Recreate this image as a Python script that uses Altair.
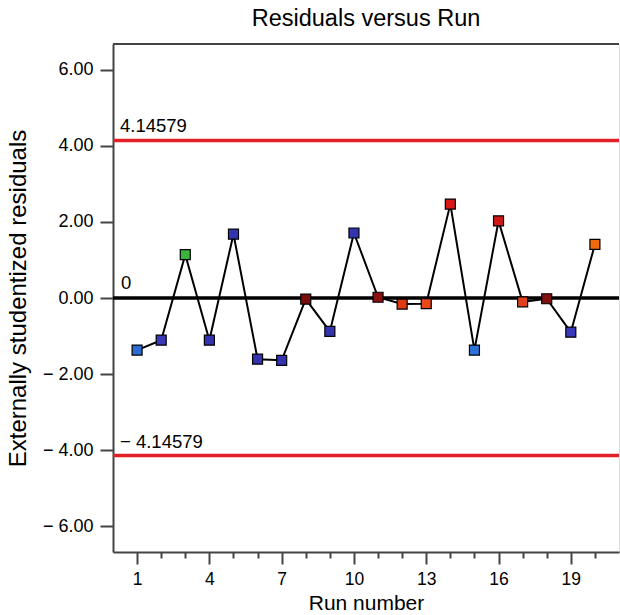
import altair as alt
import pandas as pd

# ---- data ----
runs = list(range(1, 21))
residuals = [-1.37, -1.11, 1.14, -1.11, 1.68, -1.61, -1.64, -0.03, -0.88, 1.71,
             0.02, -0.16, -0.15, 2.47, -1.37, 2.03, -0.10, -0.02, -0.90, 1.41]
point_colors = ["#2d6cd2", "#3a3ab8", "#3cb43c", "#3434b0", "#3434b0", "#3434b0",
                "#3434b0", "#7a0c0c", "#3434b0", "#3434b0", "#8a1010", "#e03a12",
                "#e8481a", "#d81818", "#2d72d8", "#d01818", "#e0401a", "#801010",
                "#3838b8", "#f06a12"]
limit_values = [4.14579, -4.14579]
limit_labels = ["4.14579", "\u2212 4.14579"]
zero_label = ["0"]
x_ticks = list(range(1, 21))
x_major = [1, 4, 7, 10, 13, 16, 19]
y_ticks = [-6, -4, -2, 0, 2, 4, 6]
x_domain = [0, 21]
y_domain = [-6.684, 6.684]

FONT = "Liberation Sans"

df = pd.DataFrame({"run": runs, "res": residuals, "color": point_colors})
lim_df = pd.DataFrame({"run": [x_domain[0]] * 2, "res": limit_values, "label": limit_labels})
zero_df = pd.DataFrame({"run": [x_domain[0]], "res": [0.0], "label": zero_label})
top_df = pd.DataFrame({"run": [x_domain[0]], "res": [y_domain[1]]})

major_test = "indexof(" + str(x_major) + ", datum.value) >= 0"

x_axis = alt.Axis(
    title="Run number",
    values=x_ticks,
    labelExpr=major_test + " ? datum.label : ''",
    labelOverlap=False,
    tickSize={"condition": {"test": major_test, "value": 12}, "value": 6},
    tickWidth=2,
    tickColor="#444444",
    domainColor="#444444",
    domainWidth=2,
    grid=False,
    labelFontSize=17.5,
    labelPadding=6,
    labelFont=FONT,
    labelColor="black",
    titleFont=FONT,
    titleFontSize=21,
    titleFontWeight="normal",
    titleColor="black",
    titlePadding=5,
)
y_axis = alt.Axis(
    title="Externally studentized residuals",
    values=y_ticks,
    labelExpr="datum.value < 0 ? '\u2212 ' + format(-datum.value, '.2f') : format(datum.value, '.2f')",
    labelOverlap=False,
    tickSize=13,
    tickWidth=2,
    tickColor="#444444",
    domainColor="#444444",
    domainWidth=2,
    grid=False,
    labelFontSize=18,
    labelPadding=7,
    labelFont=FONT,
    labelColor="black",
    titleFont=FONT,
    titleFontSize=24,
    titleFontWeight="normal",
    titleColor="black",
    titlePadding=12,
)

x_enc = alt.X("run:Q", scale=alt.Scale(domain=x_domain, nice=False, zero=False), axis=x_axis)
y_enc = alt.Y("res:Q", scale=alt.Scale(domain=y_domain, nice=False, zero=False), axis=y_axis)

line = alt.Chart(df).mark_line(color="black", strokeWidth=2).encode(x=x_enc, y=y_enc)

points = alt.Chart(df).mark_square(size=100, stroke="black", strokeWidth=1.2, opacity=1).encode(
    x=x_enc, y=y_enc, fill=alt.Fill("color:N", scale=None)
)

limit_rules = alt.Chart(lim_df).mark_rule(color="#e21f26", strokeWidth=3.5).encode(y=y_enc)
zero_rule = alt.Chart(zero_df).mark_rule(color="black", strokeWidth=3.5).encode(y=y_enc)
top_rule = alt.Chart(top_df).mark_rule(color="#444444", strokeWidth=2).encode(y=y_enc)

lim_text = alt.Chart(lim_df).mark_text(
    align="left", baseline="alphabetic", dx=7, dy=-8, fontSize=18.5, font=FONT, color="black"
).encode(x=x_enc, y=y_enc, text="label:N")
zero_text = alt.Chart(zero_df).mark_text(
    align="left", baseline="alphabetic", dx=8, dy=-9, fontSize=18.5, font=FONT, color="black"
).encode(x=x_enc, y=y_enc, text="label:N")

chart = alt.layer(
    limit_rules, zero_rule, top_rule, line, points, lim_text, zero_text
).properties(
    width=506,
    height=508,
    title=alt.TitleParams(
        "Residuals versus Run", fontSize=23.5, fontWeight="normal", font=FONT,
        color="black", anchor="middle", offset=13
    ),
    autosize=alt.AutoSizeParams(type="none"),
    padding={"left": 113, "top": 44, "right": 1, "bottom": 63},
).configure_view(stroke="#c8c8c8", strokeWidth=1).configure(background="white")

chart.save("out.html", embed_options={"renderer": "svg", "actions": False})
